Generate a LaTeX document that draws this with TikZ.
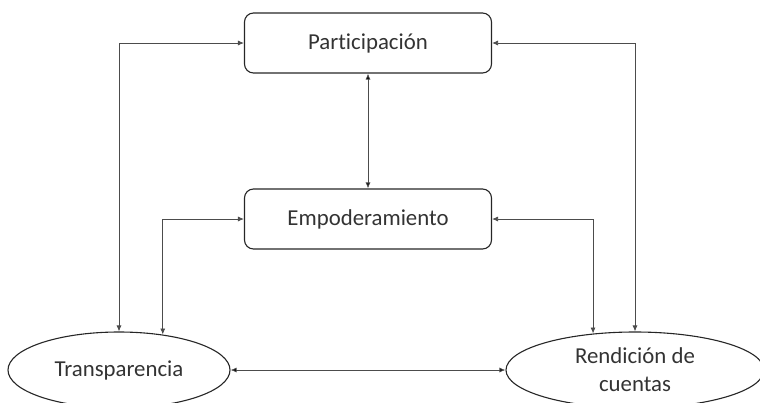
\documentclass[tikz,border=0pt]{standalone}
\usepackage{fontspec}
\setmainfont[Ligatures=CommonOff]{Carlito}
\usetikzlibrary{shapes.geometric,arrows.meta}

\begin{document}
\begin{tikzpicture}[
            x=1pt, y=-1pt,
            <->,
            >={Latex[length=6pt,width=5pt]},
            node distance=176pt,
            box/.style={rectangle, rounded corners=9pt, draw=black!85, line width=1.1pt, minimum width=247pt, minimum height=60pt},
            oval/.style={ellipse, draw=black!85, line width=1.1pt, minimum height=76pt, inner sep=0pt, align=center},
            link/.style={draw=black!70, line width=0.8pt},
            every node/.style={text=black!80, font=\fontsize{22.8}{28}\selectfont}
        ]
        \useasboundingbox (0,0) rectangle (760,402);

        % Nodes
        \node[box] (part) at (368,43) {Participación};
        \node[box] (emp) [below of=part] {Empoderamiento};
        \node[oval, minimum width=222pt] (trans) at (119,370) {Transparencia};
        \node[oval, minimum width=258pt] (rend) at (635,370) {Rendición de\\cuentas};

        % Links
        \path[link]
        (part) edge (emp)
        (trans) edge (rend);
        \draw[link] (trans.north) |- (part.west);
        \draw[link] (trans.39) |- (emp.west);
        \draw[link] (rend.north) |- (part.east);
        \draw[link] (rend.139) |- (emp.east);

        \end{tikzpicture}
\end{document}
